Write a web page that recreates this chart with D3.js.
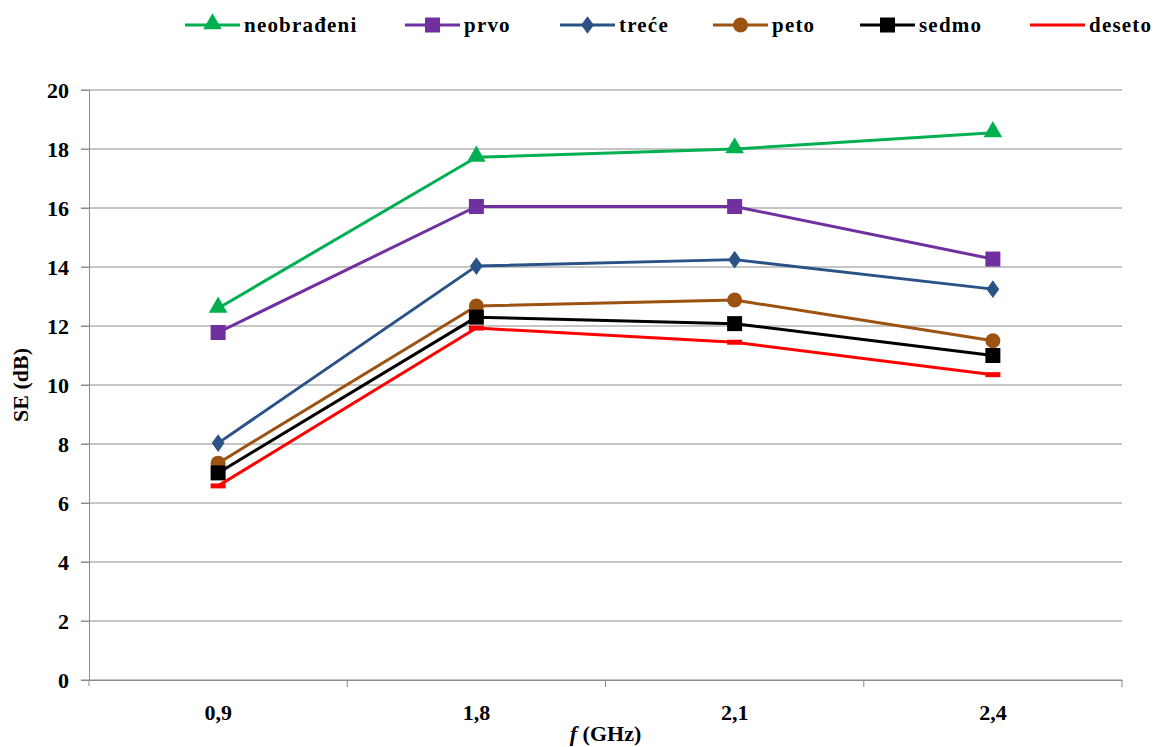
<!DOCTYPE html>
<html>
<head>
<meta charset="utf-8">
<script src="https://cdn.jsdelivr.net/npm/d3@7/dist/d3.min.js"></script>
<style>
  body { margin: 0; background: #fff; }
  text { font-family: "Liberation Serif", "Times New Roman", serif; font-weight: bold; }
</style>
</head>
<body>
<svg id="chart"></svg>
<script>
// data
var categories = ["0,9", "1,8", "2,1", "2,4"];
var seriesNames = ["neobrađeni", "prvo", "treće", "peto", "sedmo", "deseto"];
var neobradjeni = [12.6, 17.72, 18.0, 18.55];
var prvo = [11.78, 16.05, 16.05, 14.27];
var trece = [8.03, 14.03, 14.25, 13.25];
var peto = [7.35, 12.68, 12.88, 11.5];
var sedmo = [7.02, 12.3, 12.08, 11.0];
var deseto = [6.58, 11.93, 11.45, 10.35];
var yTicks = [0, 2, 4, 6, 8, 10, 12, 14, 16, 18, 20];

var colors = ["#00b050", "#7030a0", "#2a5286", "#9c5210", "#000000", "#ff0000"];
var shapes = ["triangle", "square", "diamond", "circle", "square", "dash"];
var allValues = [neobradjeni, prvo, trece, peto, sedmo, deseto];

var series = seriesNames.map(function(n, i) {
  return {name: n, values: allValues[i], color: colors[i], shape: shapes[i]};
});

var width = 1157, height = 747;
var plotLeft = 89, plotRight = 1122, plotTop = 90, plotBottom = 680;

var svg = d3.select("#chart").attr("width", width).attr("height", height);

var x = d3.scaleBand().domain(categories).range([plotLeft, plotRight]);
var y = d3.scaleLinear().domain([0, 20]).range([plotBottom, plotTop]);

// gridlines
svg.append("g")
  .selectAll("line")
  .data(yTicks)
  .enter()
  .append("line")
  .attr("x1", plotLeft - 8).attr("x2", plotRight)
  .attr("y1", function(d) { return y(d); })
  .attr("y2", function(d) { return y(d); })
  .attr("stroke", "#8c8c8c").attr("stroke-width", 1);

// y axis
var yAxis = svg.append("g")
  .attr("transform", "translate(" + plotLeft + ",0)")
  .call(d3.axisLeft(y).tickValues(yTicks).tickSize(8).tickPadding(12));
yAxis.select(".domain").attr("stroke", "#8c8c8c");
yAxis.selectAll(".tick line").attr("stroke", "#8c8c8c");
yAxis.selectAll("text")
  .attr("font-family", "Liberation Serif").attr("font-weight", "bold")
  .attr("font-size", 22).attr("fill", "#000");
svg.append("line")
  .attr("x1", plotLeft).attr("x2", plotLeft).attr("y1", plotBottom).attr("y2", plotBottom + 6)
  .attr("stroke", "#8c8c8c");

// x axis
var xAxis = svg.append("g")
  .attr("transform", "translate(0," + plotBottom + ")")
  .call(d3.axisBottom(x).tickSize(0).tickPadding(24));
xAxis.select(".domain").attr("stroke", "#8c8c8c");
xAxis.selectAll("text")
  .attr("font-family", "Liberation Serif").attr("font-weight", "bold")
  .attr("font-size", 22).attr("fill", "#000");
// tick marks between categories
svg.append("g")
  .selectAll("line")
  .data(categories)
  .enter()
  .append("line")
  .attr("x1", function(d) { return x(d) + x.bandwidth(); })
  .attr("x2", function(d) { return x(d) + x.bandwidth(); })
  .attr("y1", plotBottom).attr("y2", plotBottom + 7)
  .attr("stroke", "#8c8c8c");

// axis titles
svg.append("text")
  .attr("transform", "translate(28," + ((plotTop + plotBottom) / 2) + ") rotate(-90)")
  .attr("text-anchor", "middle")
  .attr("font-size", 22)
  .text("SE (dB)");

var xt = svg.append("text")
  .attr("x", (plotLeft + plotRight) / 2).attr("y", 741)
  .attr("text-anchor", "middle")
  .attr("font-size", 22);
xt.append("tspan").attr("font-style", "italic").text("f");
xt.append("tspan").text(" (GHz)");

function drawMarker(g, shape, color, cx, cy) {
  if (shape === "triangle") {
    g.append("path").attr("d", d3.symbol().type(d3.symbolTriangle).size(150)())
      .attr("transform", "translate(" + cx + "," + (cy - 1) + ")").attr("fill", color);
  } else if (shape === "square") {
    g.append("rect").attr("x", cx - 7.5).attr("y", cy - 7.5).attr("width", 15).attr("height", 15)
      .attr("fill", color);
  } else if (shape === "diamond") {
    g.append("path").attr("d", d3.symbol().type(d3.symbolDiamond).size(90)())
      .attr("transform", "translate(" + cx + "," + cy + ") scale(1.25,1)").attr("fill", color);
  } else if (shape === "circle") {
    g.append("circle").attr("cx", cx).attr("cy", cy).attr("r", 7.5).attr("fill", color);
  } else if (shape === "dash") {
    g.append("rect").attr("x", cx - 7.5).attr("y", cy - 2.5).attr("width", 15).attr("height", 5)
      .attr("fill", color);
  }
}

var line = d3.line()
  .x(function(d, i) { return x(categories[i]) + x.bandwidth() / 2; })
  .y(function(d) { return y(d); });

series.forEach(function(s) {
  var g = svg.append("g");
  g.append("path")
    .datum(s.values)
    .attr("d", line)
    .attr("fill", "none")
    .attr("stroke", s.color)
    .attr("stroke-width", 3)
    .attr("stroke-linejoin", "round");
  s.values.forEach(function(v, i) {
    drawMarker(g, s.shape, s.color, x(categories[i]) + x.bandwidth() / 2, y(v));
  });
});

// legend
var legendX = [185, 405, 560, 713, 860, 1030];
var legend = svg.append("g");
series.forEach(function(s, i) {
  var lg = legend.append("g").attr("transform", "translate(" + legendX[i] + ",25)");
  lg.append("line").attr("x1", 0).attr("x2", 55).attr("y1", 0).attr("y2", 0)
    .attr("stroke", s.color).attr("stroke-width", 3);
  if (s.shape !== "dash") drawMarker(lg, s.shape, s.color, 27.5, 0);
  lg.append("text").attr("x", 59).attr("y", 7)
    .attr("font-size", 21).attr("letter-spacing", 1.2)
    .text(s.name);
});
</script>
</body>
</html>
